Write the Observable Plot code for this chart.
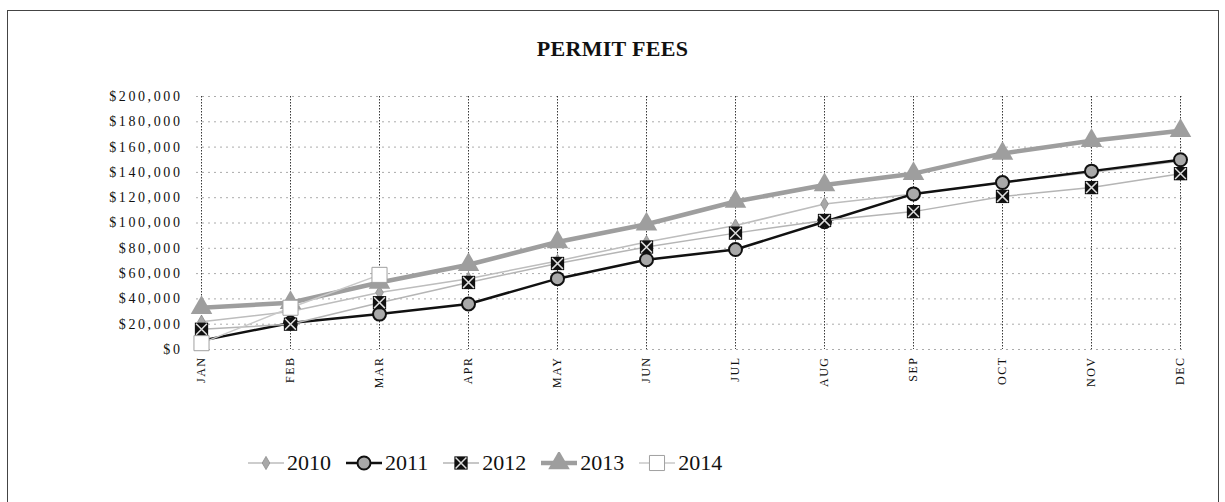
<!DOCTYPE html>
<html>
<head>
<meta charset="utf-8">
<script src="https://cdn.jsdelivr.net/npm/d3@7"></script>
<script src="https://cdn.jsdelivr.net/npm/@observablehq/plot@0.6"></script>
<style>
  html, body { margin: 0; padding: 0; background: #fff; }
  #wrap { position: relative; width: 1225px; height: 502px; overflow: hidden; font-family: "Liberation Serif", serif; }
  #frame { position: absolute; left: 7px; top: 10px; width: 1212px; height: 500px; border: 1px solid #444; box-sizing: border-box; }
  #title { position: absolute; left: 0; top: 36px; width: 1225px; text-align: center; font-weight: bold; font-size: 22px; color: #111; letter-spacing: 0.3px; }
  #chart { position: absolute; left: 0; top: 0; }
  #chart g[aria-label="y-axis tick label"] text { letter-spacing: 2.6px; }
  #chart g[aria-label="x-axis tick label"] text { letter-spacing: 1.5px; }
  #legend { position: absolute; left: 248px; top: 450px; display: flex; align-items: center; gap: 15px; font-size: 22px; color: #111; }
  .item { display: flex; align-items: center; gap: 3px; }
</style>
</head>
<body>
<div id="wrap">
  <div id="frame"></div>
  <div id="chart"></div>
  <div id="title">PERMIT FEES</div>
  <div id="legend"></div>
</div>
<script>
const months = ["JAN","FEB","MAR","APR","MAY","JUN","JUL","AUG","SEP","OCT","NOV","DEC"];
const years = ["2010","2011","2012","2013","2014"];
const fees2010 = [22000, 30000, 45000, 56000, 70000, 85000, 98000, 115000, 123000, 132000, 140000, 149000];
const fees2011 = [7000, 21000, 28000, 36000, 56000, 71000, 79000, 101000, 123000, 132000, 141000, 150000];
const fees2012 = [16000, 20000, 37000, 53000, 68000, 81000, 92000, 102000, 109000, 121000, 128000, 139000];
const fees2013 = [33000, 37000, 53000, 67000, 85000, 99000, 117000, 130000, 139000, 155000, 165000, 173000];
const fees2014 = [5000, 33000, 59000];
const yTicks = [0, 20000, 40000, 60000, 80000, 100000, 120000, 140000, 160000, 180000, 200000];

const rows = (year, vals) => vals.map((v, i) => ({year, month: months[i], value: v}));
const r2010 = rows("2010", fees2010);
const r2011 = rows("2011", fees2011);
const r2012 = rows("2012", fees2012);
const r2013 = rows("2013", fees2013);
const r2014 = rows("2014", fees2014);

const fmt = d => "$" + d3.format(",")(d);
const xy = {x: "month", y: "value"};

const chart = Plot.plot({
  width: 1225,
  height: 400,
  marginLeft: 196,
  marginRight: 41,
  marginTop: 96,
  marginBottom: 51,
  style: {fontFamily: "Liberation Serif, serif", fontSize: "13px", color: "#111", background: "transparent"},
  x: {type: "point", domain: months, padding: 0, label: null},
  y: {domain: [0, 200000], label: null},
  marks: [
    Plot.gridY(yTicks, {stroke: "#888", strokeOpacity: 0.7, strokeDasharray: "2,4"}),
    Plot.gridX(months, {stroke: "#222", strokeOpacity: 0.9, strokeDasharray: "1.5,1.5"}),
    Plot.axisY(yTicks, {tickFormat: fmt, tickSize: 0, tickPadding: 14, fontSize: 14, label: null}),
    Plot.axisX(months, {tickRotate: -90, tickSize: 0, tickPadding: 7, fontSize: 12, label: null}),
    // 2010
    Plot.line(r2010, {...xy, stroke: "#bdbdbd", strokeWidth: 1.5}),
    Plot.dot(r2010, {...xy, symbol: "diamond", r: 4, fill: "#a8a8a8", stroke: "#8a8a8a", strokeWidth: 0.8}),
    // 2011
    Plot.line(r2011, {...xy, stroke: "#111", strokeWidth: 2.5}),
    Plot.dot(r2011, {...xy, symbol: "circle", r: 6.5, fill: "#a9a9a9", stroke: "#111", strokeWidth: 2}),
    // 2012
    Plot.line(r2012, {...xy, stroke: "#b5b5b5", strokeWidth: 1.5}),
    Plot.dot(r2012, {...xy, symbol: "square", r: 7.5, fill: "#111"}),
    Plot.dot(r2012, {...xy, symbol: "times", r: 5, stroke: "#ddd", strokeWidth: 1.5}),
    // 2013
    Plot.line(r2013, {...xy, stroke: "#9e9e9e", strokeWidth: 4.5}),
    Plot.dot(r2013, {...xy, symbol: "triangle", r: 8, fill: "#9e9e9e"}),
    // 2014
    Plot.line(r2014, {...xy, stroke: "#c8c8c8", strokeWidth: 1.5}),
    Plot.dot(r2014, {...xy, symbol: "square", r: 8.5, fill: "#fff", stroke: "#a0a0a0", strokeWidth: 1})
  ]
});
document.getElementById("chart").appendChild(chart);

// Legend
const legendStyle = {
  "2010": {line: "#bdbdbd", lw: 1.5, sym: d3.symbolDiamond, r: 4, fill: "#a8a8a8", stroke: "#8a8a8a", sw: 0.8},
  "2011": {line: "#111", lw: 2.5, sym: d3.symbolCircle, r: 6.5, fill: "#a9a9a9", stroke: "#111", sw: 2},
  "2012": {line: "#b5b5b5", lw: 1.5, sym: d3.symbolSquare, r: 7.5, fill: "#111", stroke: "none", sw: 0, times: true},
  "2013": {line: "#9e9e9e", lw: 4.5, sym: d3.symbolTriangle, r: 8, fill: "#9e9e9e", stroke: "none", sw: 0},
  "2014": {line: "#c8c8c8", lw: 1.5, sym: d3.symbolSquare, r: 8.5, fill: "#fff", stroke: "#a0a0a0", sw: 1}
};
const legend = d3.select("#legend");
years.forEach(y => {
  const s = legendStyle[y];
  const item = legend.append("div").attr("class", "item");
  const svg = item.append("svg").attr("width", 36).attr("height", 22);
  svg.append("line").attr("x1", 0).attr("x2", 36).attr("y1", 11).attr("y2", 11)
    .attr("stroke", s.line).attr("stroke-width", s.lw);
  svg.append("path").attr("transform", "translate(18,11)")
    .attr("d", d3.symbol(s.sym, Math.PI * s.r * s.r)())
    .attr("fill", s.fill).attr("stroke", s.stroke).attr("stroke-width", s.sw);
  if (s.times) {
    svg.append("path").attr("transform", "translate(18,11)")
      .attr("d", d3.symbol(d3.symbolTimes, Math.PI * 25)())
      .attr("fill", "none").attr("stroke", "#ddd").attr("stroke-width", 1.5);
  }
  item.append("span").text(y);
});
</script>
</body>
</html>
